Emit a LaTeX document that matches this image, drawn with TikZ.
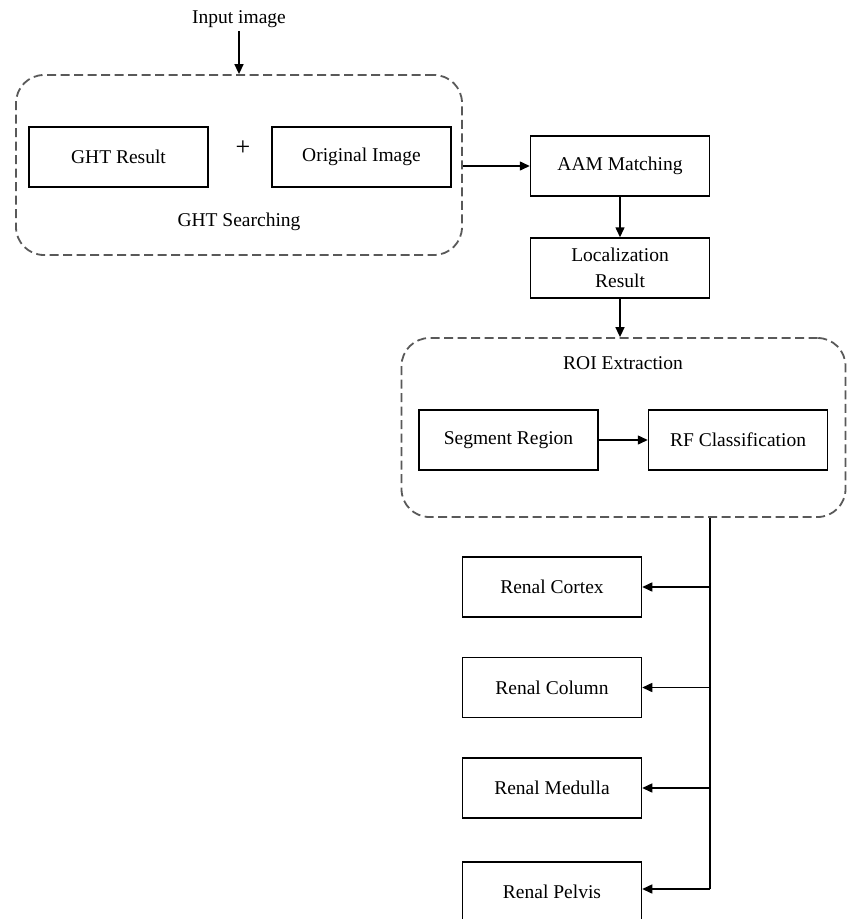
\documentclass[tikz,border=0pt]{standalone}
\usepackage{fontspec}
\setmainfont{Liberation Serif}
\usetikzlibrary{arrows.meta}
\begin{document}
\begin{tikzpicture}[x=1pt,y=-1pt,
  every node/.style={font=\fontsize{19.5}{26}\selectfont},
  box/.style={draw, line width=1.5pt, minimum width=179pt, minimum height=60pt, inner sep=2pt, align=center},
  group/.style={draw=black!65, line width=1.8pt, dash pattern=on 9pt off 4.5pt, rounded corners=28pt},
  arr/.style={line width=1.5pt, -{Triangle[length=10pt,width=9pt]}},
  ln/.style={line width=1.5pt}]
\useasboundingbox (0,0) rectangle (847,919);
\clip (0,0) rectangle (847,919);
% containers
\node[group, minimum width=446pt, minimum height=180pt] (ght) at (239,165) {};
\node[group, minimum width=444pt, minimum height=179pt] (roi) at (623.5,427.5) {};
% labels
\node (input) at (239,19) {Input image};
\node (ghtlbl) at (239,222) {GHT Searching};
\node (roilbl) at (623,363) {ROI Extraction};
\node[font=\fontsize{26}{28}\selectfont] (plus) at (243,148) {+};
% boxes
\node[box] (ghtres) at (118.5,157) {GHT Result};
\node[box] (orig) at (361.5,157) {Original Image};
\node[box] (aam) at (620,166) {AAM Matching};
\node[box] (loc) at (620,268) {Localization\\Result};
\node[box] (seg) at (508.5,440) {Segment Region};
\node[box] (rf) at (738,440) {RF Classification};
\node[box] (cortex) at (552,587) {Renal Cortex};
\node[box] (column) at (552,687.5) {Renal Column};
\node[box] (medulla) at (552,788) {Renal Medulla};
\node[box] (pelvis) at (552,892) {Renal Pelvis};
% connectors
\draw[arr] (input.south) -- (ght.north);
\draw[arr] (ght.east |- aam.west) -- (aam.west);
\draw[arr] (aam.south) -- (loc.north);
\draw[arr] (loc.south) -- (roi.north -| loc.south);
\draw[arr] (seg.east) -- (rf.west);
\coordinate (trunktop) at (710,0 |- roi.south);
\coordinate (trunkbot) at (710,889);
\draw[ln] (trunktop) -- (trunkbot);
\draw[arr] (trunktop |- cortex.east) -- (cortex.east);
\draw[arr] (trunktop |- column.east) -- (column.east);
\draw[arr] (trunktop |- medulla.east) -- (medulla.east);
\draw[arr] (trunkbot) -- (trunkbot -| pelvis.east);
\end{tikzpicture}
\end{document}
